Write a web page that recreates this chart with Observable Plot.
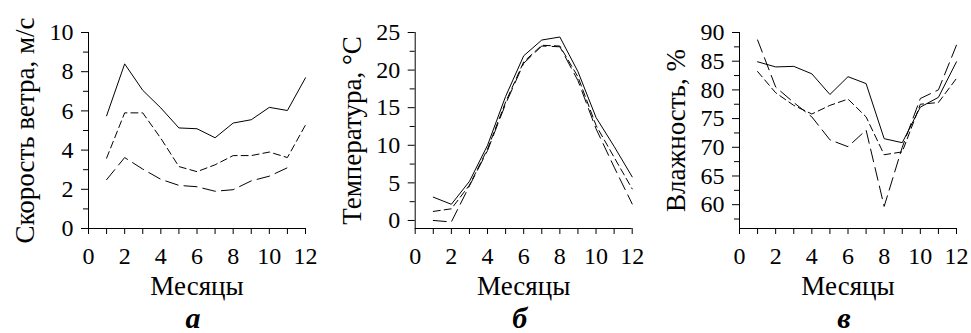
<!DOCTYPE html>
<html>
<head>
<meta charset="utf-8">
<script src="https://cdn.jsdelivr.net/npm/d3@7"></script>
<script src="https://cdn.jsdelivr.net/npm/@observablehq/plot@0.6"></script>
<style>
  html, body { margin: 0; padding: 0; background: #fff; }
  #wrap { position: relative; width: 971px; height: 333px; overflow: hidden; }
  .panel { position: absolute; top: 0; }
  .panel svg, .panel svg text { font-family: "Liberation Serif", "Times New Roman", Times, serif !important; }
</style>
</head>
<body>
<div id="wrap"></div>
<script>
// ---------- data ----------
const months = [1, 2, 3, 4, 5, 6, 7, 8, 9, 10, 11, 12];
const xTickValues = [0, 1, 2, 3, 4, 5, 6, 7, 8, 9, 10, 11, 12];
const xLabel = "Месяцы";

// (а) wind speed, m/s
const windSolid = [5.75, 8.4, 7.05, 6.15, 5.13, 5.09, 4.63, 5.38, 5.55, 6.18, 6.02, 7.69];
const windMid   = [3.59, 5.9, 5.9, 4.6, 3.16, 2.9, 3.25, 3.72, 3.72, 3.9, 3.62, 5.28];
const windLong  = [2.49, 3.62, 3.03, 2.51, 2.2, 2.13, 1.9, 1.98, 2.43, 2.67, 3.1, null];
const windTicks = [0, 2, 4, 6, 8, 10];
const windMinor = [1, 3, 5, 7, 9];

// (б) temperature, °C
const tempSolid = [3.1, 2.15, 5.2, 10.0, 16.5, 21.9, 24.0, 24.4, 19.8, 13.7, 9.85, 5.8];
const tempMid   = [1.2, 1.55, 4.7, 9.5, 15.75, 21.1, 23.3, 23.2, 19.1, 12.65, 8.4, 4.2];
const tempLong  = [0.0, -0.2, 4.6, 9.3, 15.5, 20.9, 23.2, 23.1, 18.6, 12.2, 7.1, 2.2];
const tempTicks = [0, 5, 10, 15, 20, 25];
const tempMinor = [2.5, 7.5, 12.5, 17.5, 22.5];

// (в) humidity, %
const humSolid = [84.9, 84.0, 84.1, 82.8, 79.2, 82.3, 81.1, 71.5, 70.8, 77.0, 78.7, 84.9];
const humMid   = [83.2, 79.5, 77.3, 75.8, 77.3, 78.4, 75.3, 68.7, 69.2, 77.5, 77.8, 82.0];
const humLong  = [88.7, 80.5, 77.8, 75.3, 71.3, 70.1, 73.0, 59.7, 70.0, 78.5, 80.0, 87.8];
const humTicks = [60, 65, 70, 75, 80, 85, 90];
const humMinor = [57.5, 62.5, 67.5, 72.5, 77.5, 82.5, 87.5];

const rows = (vals) => months.map((m, i) => ({m, v: vals[i]}));

const FONT = "Liberation Serif";

function panel({left, width, marginLeft, domain, ticks, minor, ylabel, letter, solid, mid, long}) {
  const plot = Plot.plot({
    width,
    height: 333,
    marginLeft,
    marginRight: width - marginLeft - 217,
    marginTop: 32,
    marginBottom: 105,
    x: {domain: [0, 12]},
    y: {domain},
    style: {fontFamily: FONT, fontSize: "24px", color: "#000", background: "#fff", overflow: "visible"},
    marks: [
      Plot.axisY({ticks, tickSize: 7, tickPadding: 8, label: null, fontSize: 24, fontFamily: FONT}),
      Plot.axisY({ticks: minor, tickSize: 5, tickFormat: () => "", label: null}),
      Plot.axisX({ticks: xTickValues, tickSize: 6, tickPadding: 12, label: null, fontSize: 24, fontFamily: FONT,
                  tickFormat: d => (d % 2 === 0 ? String(d) : "")}),
      Plot.ruleX([0], {stroke: "#000", strokeWidth: 1}),
      Plot.ruleY([domain[0]], {stroke: "#000", strokeWidth: 1}),
      Plot.line(rows(solid), {x: "m", y: "v", stroke: "#000", strokeWidth: 1}),
      Plot.line(rows(mid), {x: "m", y: "v", stroke: "#000", strokeWidth: 1, strokeDasharray: "7,4"}),
      Plot.line(rows(long), {x: "m", y: "v", stroke: "#000", strokeWidth: 1, strokeDasharray: "13,6"}),
      Plot.text([ylabel], {text: d => d, frameAnchor: "left", textAnchor: "middle", dx: -63, rotate: -90,
                           fontSize: 27, fontFamily: FONT}),
      Plot.text([xLabel], {text: d => d, frameAnchor: "bottom", dy: 66, fontSize: 27, fontFamily: FONT}),
      Plot.text([letter], {text: d => d, frameAnchor: "bottom", dy: 99, dx: -4, fontSize: 30, fontFamily: FONT,
                           fontWeight: "bold", fontStyle: "italic"})
    ]
  });
  const div = document.createElement("div");
  div.className = "panel";
  div.style.left = left + "px";
  div.appendChild(plot);
  document.getElementById("wrap").appendChild(div);
}

panel({left: 0, width: 325, marginLeft: 88, domain: [0, 10], ticks: windTicks, minor: windMinor,
       ylabel: "Скорость ветра, м/с", letter: "а", solid: windSolid, mid: windMid, long: windLong});
panel({left: 325, width: 322, marginLeft: 89.7, domain: [-1.07, 25], ticks: tempTicks, minor: tempMinor,
       ylabel: "Температура, °С", letter: "б", solid: tempSolid, mid: tempMid, long: tempLong});
panel({left: 647, width: 324, marginLeft: 92, domain: [55.85, 90], ticks: humTicks, minor: humMinor,
       ylabel: "Влажность, %", letter: "в", solid: humSolid, mid: humMid, long: humLong});
</script>
</body>
</html>
